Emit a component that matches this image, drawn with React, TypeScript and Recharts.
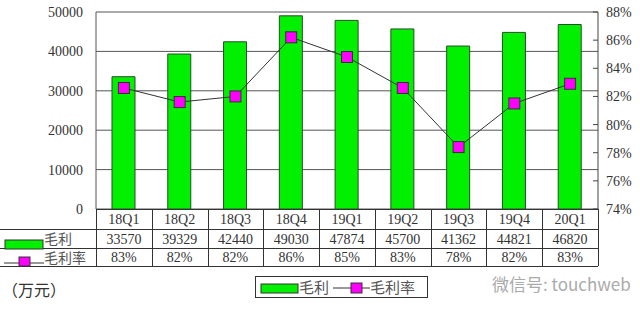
import {
  ComposedChart,
  Bar,
  Line,
  XAxis,
  YAxis,
  CartesianGrid,
} from "recharts";

// quarters and values
const quarters = ["18Q1", "18Q2", "18Q3", "18Q4", "19Q1", "19Q2", "19Q3", "19Q4", "20Q1"];
const grossProfit = [33570, 39329, 42440, 49030, 47874, 45700, 41362, 44821, 46820];
const grossMargin = [82.6, 81.6, 82.0, 86.2, 84.8, 82.6, 78.4, 81.5, 82.9];

const leftTicks = [0, 10000, 20000, 30000, 40000, 50000];
const rightTicks = [74, 76, 78, 80, 82, 84, 86, 88];

const data = quarters.map((q, i) => ({
  q,
  profit: grossProfit[i],
  margin: grossMargin[i],
}));

// plot geometry
const W = 640;
const H = 311;
const PLOT_L = 96;
const PLOT_R = 598;
const PLOT_T = 12;
const PLOT_B = 209;
const ROW1 = 229;
const ROW2 = 248;
const ROW3 = 266;

const NUM_FONT = "'Liberation Serif', 'DejaVu Serif', serif";
const CJK_FONT = "'Noto Sans CJK SC', sans-serif";
const TEXT = "#333";
const GREEN = "#00f000";
const MAGENTA = "#ff00ff";

function TableTick(props: any) {
  const { x, y, payload, index } = props;
  const i = index ?? quarters.indexOf(payload.value);
  return (
    <g fontFamily={NUM_FONT} fontSize={14} fill={TEXT} textAnchor="middle">
      <text x={x} y={y + 15}>{payload.value}</text>
      <text x={x} y={y + 35}>{grossProfit[i]}</text>
      <text x={x} y={y + 53}>{Math.round(grossMargin[i])}%</text>
    </g>
  );
}

function LeftTick(props: any) {
  const { y, payload } = props;
  return (
    <text
      x={PLOT_L - 13}
      y={y + 5}
      fontFamily={NUM_FONT}
      fontSize={14}
      fill={TEXT}
      textAnchor="end"
    >
      {payload.value}
    </text>
  );
}

function RightTick(props: any) {
  const { x, y, payload } = props;
  return (
    <g>
      <line x1={x - 13} x2={x - 8} y1={y} y2={y} stroke="#444" />
      <text
        x={x}
        y={y + 5}
        fontFamily={NUM_FONT}
        fontSize={14}
        fill={TEXT}
        textAnchor="start"
      >
        {payload.value}%
      </text>
    </g>
  );
}

function SquareDot(props: any) {
  const { cx, cy, index } = props;
  if (cx == null || cy == null) return <g key={`d-${index}`} />;
  return (
    <rect
      key={`d-${index}`}
      x={cx - 5.5}
      y={cy - 5.5}
      width={11}
      height={11}
      fill={MAGENTA}
      stroke="#333"
      strokeWidth={1}
    />
  );
}

function TableFrame() {
  const colW = (PLOT_R - PLOT_L) / quarters.length;
  const dividers = quarters.map((_, i) => PLOT_L + colW * (i + 1));
  return (
    <svg
      width={W}
      height={H}
      style={{ position: "absolute", left: 0, top: 0, pointerEvents: "none" }}
    >
      <g stroke="#333" strokeWidth={1}>
        <line x1={PLOT_L} x2={PLOT_R} y1={PLOT_B + 0.5} y2={PLOT_B + 0.5} />
        <line x1={0} x2={PLOT_R} y1={ROW1 + 0.5} y2={ROW1 + 0.5} />
        <line x1={0} x2={PLOT_R} y1={ROW2 + 0.5} y2={ROW2 + 0.5} />
        <line x1={0} x2={PLOT_R} y1={ROW3 + 0.5} y2={ROW3 + 0.5} />
        <line x1={PLOT_L + 0.5} x2={PLOT_L + 0.5} y1={PLOT_B} y2={ROW3} />
        {dividers.map((x, i) => (
          <line key={i} x1={Math.round(x) + 0.5} x2={Math.round(x) + 0.5} y1={PLOT_B} y2={ROW3} />
        ))}
      </g>
      {/* row keys */}
      <rect x={5} y={240} width={38} height={9} fill={GREEN} stroke="#333" />
      <text x={44} y={244} fontFamily={CJK_FONT} fontSize={14} fill="#555">毛利</text>
      <line x1={4} x2={44} y1={263} y2={263} stroke="#333" />
      <rect x={19} y={257} width={11} height={9} fill={MAGENTA} stroke="#333" />
      <text x={44} y={263} fontFamily={CJK_FONT} fontSize={14} fill="#555">毛利率</text>

      {/* legend */}
      <rect x={255.5} y={276.5} width={172} height={21} fill="#fff" stroke="#333" />
      <rect x={261} y={284} width={37} height={9} fill={GREEN} stroke="#333" />
      <text x={299} y={293} fontFamily={CJK_FONT} fontSize={15} fill="#555">毛利</text>
      <line x1={333} x2={370} y1={288} y2={288} stroke="#333" />
      <rect x={351} y={283} width={11} height={10} fill={MAGENTA} stroke="#333" />
      <text x={370} y={293} fontFamily={CJK_FONT} fontSize={15} fill="#555">毛利率</text>

      <text x={2} y={296} fontFamily={CJK_FONT} fontSize={16} fill="#333">（万元）</text>

      {/* watermark */}
      <text x={492} y={291} fontFamily={CJK_FONT} fontSize={17} fill="#aaa">微信号: touchweb</text>
    </svg>
  );
}

export default function App() {
  return (
    <div style={{ position: "absolute", left: 0, top: 0, width: W, height: H, background: "#fff" }}>
      <ComposedChart
        width={W}
        height={H}
        data={data}
        margin={{ top: PLOT_T, right: 0, bottom: 0, left: 0 }}
      >
        <CartesianGrid
          yAxisId="l"
          vertical={false}
          stroke="#555"
          strokeWidth={1}
        />
        <XAxis
          dataKey="q"
          height={H - PLOT_B}
          axisLine={false}
          tickLine={false}
          tickSize={0}
          tickMargin={0}
          interval={0}
          tick={<TableTick />}
        />
        <YAxis
          yAxisId="l"
          width={PLOT_L}
          domain={[0, 50000]}
          ticks={leftTicks}
          interval={0}
          tickLine={false}
          axisLine={{ stroke: "#555" }}
          tick={<LeftTick />}
        />
        <YAxis
          yAxisId="r"
          orientation="right"
          width={W - PLOT_R}
          domain={[74, 88]}
          ticks={rightTicks}
          interval={0}
          tickLine={false}
          tickSize={0}
          tickMargin={8}
          axisLine={{ stroke: "#444" }}
          tick={<RightTick />}
        />
        <Bar
          yAxisId="l"
          dataKey="profit"
          barSize={23}
          fill={GREEN}
          stroke="#2a4a2a"
          strokeWidth={1}
          isAnimationActive={false}
        />
        <Line
          yAxisId="r"
          type="linear"
          dataKey="margin"
          stroke="#333"
          strokeWidth={1}
          dot={(p: any) => <SquareDot {...p} />}
          activeDot={false}
          isAnimationActive={false}
        />
      </ComposedChart>
      <TableFrame />
    </div>
  );
}
